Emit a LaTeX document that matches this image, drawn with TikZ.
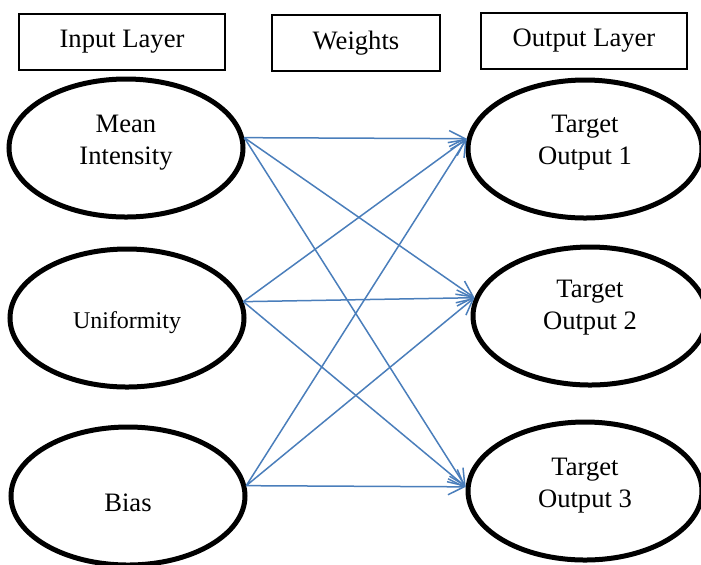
\documentclass[tikz,border=0pt]{standalone}
\usepackage{fontspec}
\setmainfont{Liberation Serif}
\usetikzlibrary{shapes.geometric,arrows.meta}
\definecolor{wtblue}{RGB}{74,126,187}

\begin{document}
\begin{tikzpicture}[
  x=0.5pt, y=-0.5pt,
  every node/.style={font=\fontsize{13.3}{16}\selectfont, align=center},
  layer/.style={draw, line width=0.6pt, minimum height=28pt, inner sep=0pt},
  unit/.style={draw, ellipse, line width=2.5pt, minimum width=117pt, minimum height=69pt, inner sep=0pt},
  wt/.style={draw=wtblue, line width=0.75pt, -{Straight Barb[length=8pt,width=8pt]}}
]
\clip (0,0) rectangle (701,564);
% column headings
\node[layer, minimum width=103pt] (inlayer) at (122,42) {Input Layer};
\node[layer, minimum width=84pt] (weights) at (356,43) {Weights};
\node[layer, minimum width=103pt] (outlayer) at (584,41) {Output Layer};
% input units
\node[unit, label={[yshift=2.5pt]center:{Mean\\Intensity}}] (mean) at (126,148) {};
\node[unit, label={[yshift=-2.5pt, font=\fontsize{12}{14}\selectfont]center:Uniformity}] (unif) at (127,318) {};
\node[unit, label={[yshift=-3.5pt]center:Bias}] (bias) at (128,496) {};
% output units
\node[unit, label={[yshift=3pt]center:{Target\\Output 1}}] (tout1) at (585,149) {};
\node[unit, label={[yshift=4pt]center:{Target\\Output 2}}] (tout2) at (590,316) {};
\node[unit, label={[yshift=2.75pt]center:{Target\\Output 3}}] (tout3) at (585,491) {};
% weights
\foreach \src/\a in {mean/5, unif/8, bias/5}
  \foreach \dst/\b in {tout1/175, tout2/171, tout3/178}
    \draw[wt] (\src.\a) -- (\dst.\b);
\end{tikzpicture}
\end{document}
